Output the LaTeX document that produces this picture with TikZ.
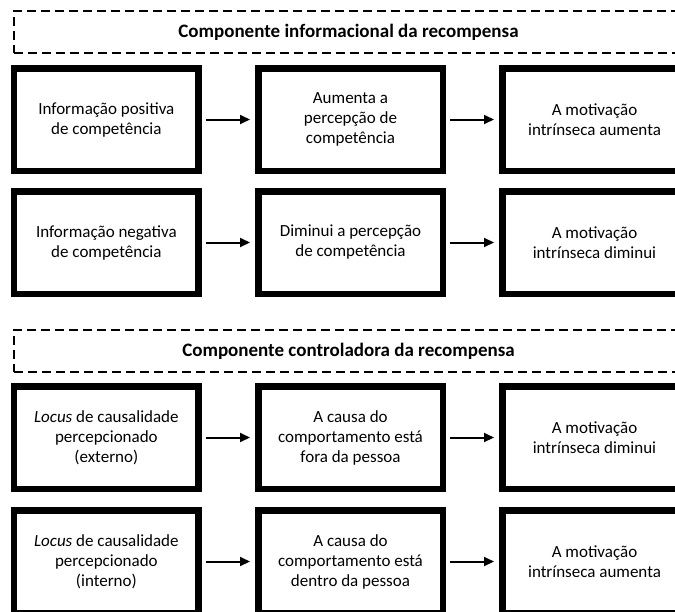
\documentclass[tikz,border=0pt]{standalone}
\usepackage{fontspec}
\setmainfont{Carlito}
\usetikzlibrary{arrows.meta}
\begin{document}
\begin{tikzpicture}[x=1pt,y=-1pt,
  stepbox/.style={draw, line width=6.5pt, minimum width=184.5pt, minimum height=102.5pt,
    inner sep=0pt, align=center, font=\fontsize{17}{20}\selectfont},
  titlebox/.style={draw, dash pattern=on 9pt off 5pt, line width=2pt,
    minimum width=669pt, minimum height=42pt, inner sep=0pt,
    font=\fontsize{19}{22}\selectfont\bfseries},
  flow/.style={-{Triangle[length=10pt,width=9pt]}, line width=2pt,
    shorten <=4pt, shorten >=5pt}]
\useasboundingbox (0,0) rectangle (675,611);
\clip (0,0) rectangle (675,611);
\fill[white] (0,0) rectangle (675,611);

% Section 1
\node[titlebox] (t1) at (348.5,32) {Componente informacional da recompensa};
\node[stepbox] (a1) at (106.35,119.5) {Informação positiva\\de competência};
\node[stepbox] (a2) at (350.5,119.5) {Aumenta a\\percepção de\\competência};
\node[stepbox] (a3) at (594.5,119.5) {A motivação\\intrínseca aumenta};
\node[stepbox] (b1) at (106.35,242.5) {Informação negativa\\de competência};
\node[stepbox] (b2) at (350.5,242.5) {Diminui a percepção\\de competência};
\node[stepbox] (b3) at (594.5,242.5) {A motivação\\intrínseca diminui};

% Section 2
\node[titlebox] (t2) at (348.5,351) {Componente controladora da recompensa};
\node[stepbox] (c1) at (106.35,437.5) {\textit{Locus} de causalidade\\percepcionado\\(externo)};
\node[stepbox] (c2) at (350.5,437.5) {A causa do\\comportamento está\\fora da pessoa};
\node[stepbox] (c3) at (594.5,437.5) {A motivação\\intrínseca diminui};
\node[stepbox] (d1) at (106.35,561.5) {\textit{Locus} de causalidade\\percepcionado\\(interno)};
\node[stepbox] (d2) at (350.5,561.5) {A causa do\\comportamento está\\dentro da pessoa};
\node[stepbox] (d3) at (594.5,561.5) {A motivação\\intrínseca aumenta};

\foreach \r in {a,b,c,d}{
  \draw[flow] (\r1) -- (\r2);
  \draw[flow] (\r2) -- (\r3);
}
\end{tikzpicture}
\end{document}
